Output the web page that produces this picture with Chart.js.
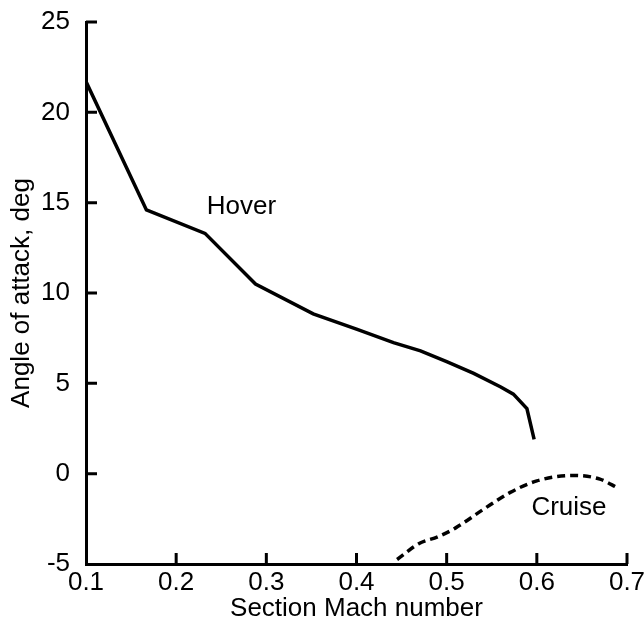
<!DOCTYPE html>
<html>
<head>
<meta charset="utf-8">
<script src="https://cdn.jsdelivr.net/npm/chart.js@4/dist/chart.umd.min.js"></script>
<style>
  html, body { margin: 0; padding: 0; background: #fff; }
  #wrap { width: 644px; height: 624px; }
</style>
</head>
<body>
<div id="wrap"><canvas id="aoaChart"></canvas></div>
<script>
// ─── Data ─────────────────────────────────────────────────────────────────────

const hoverMach  = [0.100, 0.167, 0.232, 0.288, 0.352, 0.400, 0.441, 0.471, 0.500, 0.530, 0.560, 0.574, 0.589, 0.597];
const hoverAlpha = [21.7,  14.6,  13.3,  10.5,  8.85,  8.0,   7.25,  6.8,   6.2,   5.55,  4.8,   4.4,   3.6,   1.9];

const cruiseMach  = [0.445, 0.470, 0.490, 0.510, 0.540, 0.570, 0.600, 0.640, 0.670, 0.690];
const cruiseAlpha = [-4.75, -3.85, -3.5,  -3.0,  -2.0,  -1.05, -0.4,  -0.1,  -0.3,  -0.8];

const xTickLabels = ['0.1', '0.2', '0.3', '0.4', '0.5', '0.6', '0.7'];
const yTickLabels = ['-5', '0', '5', '10', '15', '20', '25'];

const FONT = 'Liberation Sans, Arial, Helvetica, sans-serif';

// ─── Helpers ──────────────────────────────────────────────────────────────────

const toPoints = (xs, ys) => xs.map((x, i) => ({ x, y: ys[i] }));

// inward tick marks plus the curve labels
const figureExtras = {
  id: 'figureExtras',
  afterDatasetsDraw(chart) {
    const { ctx, scales: { x, y } } = chart;
    ctx.save();
    ctx.strokeStyle = '#000';
    ctx.lineWidth = 3;
    ctx.beginPath();
    y.ticks.forEach((t, i) => {
      if (t.value === y.min) return;
      const py = y.getPixelForTick(i);
      ctx.moveTo(x.left, py);
      ctx.lineTo(x.left + 11, py);
    });
    x.ticks.forEach((t, i) => {
      if (t.value === x.min) return;
      const px = x.getPixelForTick(i);
      ctx.moveTo(px, y.bottom);
      ctx.lineTo(px, y.bottom - 11);
    });
    ctx.stroke();

    ctx.fillStyle = '#000';
    ctx.font = '26px ' + FONT;
    ctx.textAlign = 'left';
    ctx.textBaseline = 'alphabetic';
    ctx.fillText('Hover', x.getPixelForValue(0.234), y.getPixelForValue(14.37));
    ctx.fillText('Cruise', x.getPixelForValue(0.594), y.getPixelForValue(-2.28));
    ctx.restore();
  },
};

// ─── Chart ────────────────────────────────────────────────────────────────────

function initChart() {
  const el = document.getElementById('aoaChart');
  new Chart(el, {
    type: 'line',
    data: {
      datasets: [
        {
          label: 'Hover',
          data: toPoints(hoverMach, hoverAlpha),
          borderColor: '#000',
          borderWidth: 3.5,
          pointRadius: 0,
          tension: 0,
          fill: false,
        },
        {
          label: 'Cruise',
          data: toPoints(cruiseMach, cruiseAlpha),
          borderColor: '#000',
          borderWidth: 3.5,
          borderDash: [8, 5],
          pointRadius: 0,
          cubicInterpolationMode: 'monotone',
          fill: false,
        },
      ],
    },
    options: {
      responsive: true,
      maintainAspectRatio: false,
      animation: false,
      layout: { padding: { top: 22, right: 17, left: 0, bottom: 0 } },
      plugins: {
        legend: { display: false },
        tooltip: { enabled: false },
      },
      scales: {
        x: {
          type: 'linear',
          min: 0.1, max: 0.7,
          ticks: {
            stepSize: 0.1,
            padding: 3,
            color: '#000',
            font: { family: FONT, size: 26 },
            callback: (v, i) => xTickLabels[i],
          },
          grid: { display: false, drawTicks: false },
          border: { display: true, color: '#000', width: 3 },
          title: {
            display: true,
            text: 'Section Mach number',
            color: '#000',
            font: { family: FONT, size: 26 },
            padding: { top: 0, bottom: 0 },
          },
          afterFit: (s) => {
            s.height = 60;
            s.paddingLeft = 0;
            s.paddingRight = 0;
          },
        },
        y: {
          min: -5, max: 25,
          ticks: {
            stepSize: 5,
            padding: 16,
            color: '#000',
            font: { family: FONT, size: 26 },
            callback: (v, i) => yTickLabels[i],
          },
          grid: { display: false, drawTicks: false },
          border: { display: true, color: '#000', width: 3 },
          title: {
            display: true,
            text: 'Angle of attack, deg',
            color: '#000',
            font: { family: FONT, size: 26 },
            padding: { top: 6, bottom: 0 },
          },
          afterFit: (s) => {
            s.width = 86;
            s.paddingTop = 0;
            s.paddingBottom = 0;
          },
        },
      },
    },
    plugins: [figureExtras],
  });
}

document.addEventListener('DOMContentLoaded', initChart);
</script>
</body>
</html>
